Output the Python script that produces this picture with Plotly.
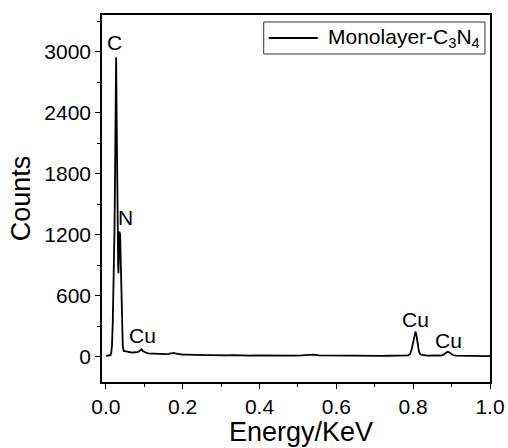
import plotly.graph_objects as go

# EDS spectrum of monolayer C3N4 (energy in keV, counts)
energy = [
    0.001, 0.005, 0.009, 0.012, 0.014, 0.016, 0.018, 0.0195, 0.021, 0.0225,
    0.024, 0.0255, 0.0268, 0.0278, 0.0285, 0.030, 0.032, 0.0328, 0.034, 0.0355,
    0.0372, 0.0389, 0.040, 0.0415, 0.043, 0.0441, 0.0467, 0.050, 0.053, 0.056,
    0.060, 0.065, 0.070, 0.075, 0.080, 0.085, 0.089, 0.093, 0.096, 0.100,
    0.105, 0.110, 0.118, 0.125, 0.132, 0.140, 0.148, 0.155, 0.163, 0.170,
    0.177, 0.184, 0.192, 0.200, 0.210, 0.220, 0.230, 0.240, 0.250, 0.260,
    0.270, 0.280, 0.290, 0.300, 0.315, 0.330, 0.345, 0.360, 0.375, 0.390,
    0.405, 0.420, 0.435, 0.450, 0.465, 0.480, 0.495, 0.510, 0.525, 0.540,
    0.555, 0.570, 0.585, 0.600, 0.615, 0.630, 0.645, 0.660, 0.675, 0.690,
    0.705, 0.720, 0.735, 0.750, 0.765, 0.778, 0.787, 0.792, 0.796, 0.800,
    0.803, 0.806, 0.809, 0.812, 0.815, 0.819, 0.825, 0.832, 0.840, 0.848,
    0.856, 0.864, 0.872, 0.878, 0.884, 0.889, 0.893, 0.898, 0.904, 0.912,
    0.920, 0.930, 0.940, 0.950, 0.960, 0.970, 0.980, 0.990, 1.000,
]
counts = [
    6, 7, 9, 14, 35, 110, 330, 560, 820, 1250,
    1800, 2450, 2944, 2500, 2030, 1400, 900, 820, 1100, 1229,
    1200, 950, 700, 393, 180, 100, 55, 50, 46, 48,
    45, 42, 40, 44, 41, 48, 62, 72, 55, 45,
    38, 32, 30, 27, 28, 25, 27, 24, 26, 30,
    36, 28, 22, 20, 19, 17, 18, 15, 16, 14,
    15, 13, 14, 13, 12, 14, 11, 12, 10, 12,
    11, 10, 12, 10, 11, 9, 10, 11, 13, 19,
    12, 10, 9, 10, 8, 9, 10, 8, 9, 8,
    9, 7, 8, 9, 8, 9, 12, 25, 70, 140,
    210, 246, 200, 110, 50, 20, 13, 11, 10, 12,
    9, 11, 10, 16, 32, 46, 44, 28, 14, 9,
    8, 7, 8, 6, 7, 6, 7, 5, 6,
]

# Element labels placed above their peaks
peak_labels = ["C", "N", "Cu", "Cu", "Cu"]
label_x = [0.0224, 0.051, 0.0946, 0.806, 0.893]
label_y = [3085, 1364, 206, 361, 157]

y_ticks = [0, 600, 1200, 1800, 2400, 3000]
x_ticks = [0.0, 0.2, 0.4, 0.6, 0.8, 1.0]

series_name = "Monolayer-C<sub>3</sub>N<sub>4</sub>"
x_title = "Energy/KeV"
y_title = "Counts"

font_family = "Liberation Sans, Arial, sans-serif"

fig = go.Figure()
fig.add_trace(go.Scatter(
    x=energy, y=counts, mode="lines",
    line=dict(color="black", width=1.8),
    name=series_name, showlegend=False,
))

for t, lx, ly in zip(peak_labels, label_x, label_y):
    fig.add_annotation(x=lx, y=ly, text=t, showarrow=False,
                       font=dict(size=21, color="black", family=font_family))

# Boxed key in the upper right corner: frame, line sample and series name
fig.add_shape(type="rect", xref="paper", yref="paper",
              x0=0.4168, x1=0.9871, y0=0.8937, y1=0.9809,
              line=dict(color="#333333", width=1), fillcolor="white")
fig.add_shape(type="line", xref="paper", yref="paper",
              x0=0.4297, x1=0.5561, y0=0.9373, y1=0.9373,
              line=dict(color="black", width=1.8))
fig.add_annotation(xref="paper", yref="paper", x=0.5768, y=0.9373,
                   xanchor="left", yanchor="middle", text=series_name,
                   showarrow=False,
                   font=dict(size=21, color="black", family=font_family))

# x-axis title placed just below the tick labels
fig.add_annotation(xref="paper", yref="paper", x=0.514, y=-0.1362,
                   xanchor="center", yanchor="middle", text=x_title,
                   showarrow=False,
                   font=dict(size=27, color="black", family=font_family))

axis_common = dict(
    showline=True, linecolor="black", linewidth=1.5, mirror=True,
    showgrid=False, zeroline=False, automargin=False,
    ticks="outside", ticklen=5, tickwidth=1.3, tickcolor="black",
    tickfont=dict(size=21, color="black", family=font_family),
)

fig.update_xaxes(
    range=[-0.01, 1.0], tickvals=x_ticks,
    ticktext=[f"{v:.1f}" for v in x_ticks],
    minor=dict(ticks="outside", ticklen=3, tickwidth=1.2, tickcolor="black", dtick=0.1),
    **axis_common,
)
fig.update_yaxes(
    range=[-250, 3360], tickvals=y_ticks,
    minor=dict(ticks="outside", ticklen=3, tickwidth=1.2, tickcolor="black", dtick=300),
    title=dict(text=y_title, font=dict(size=27, color="black", family=font_family), standoff=6),
    **axis_common,
)

fig.update_layout(
    width=508, height=448,
    margin=dict(l=102, r=18, t=15, b=66),
    paper_bgcolor="white", plot_bgcolor="white",
    showlegend=False,
)

fig.write_html("out.html")
